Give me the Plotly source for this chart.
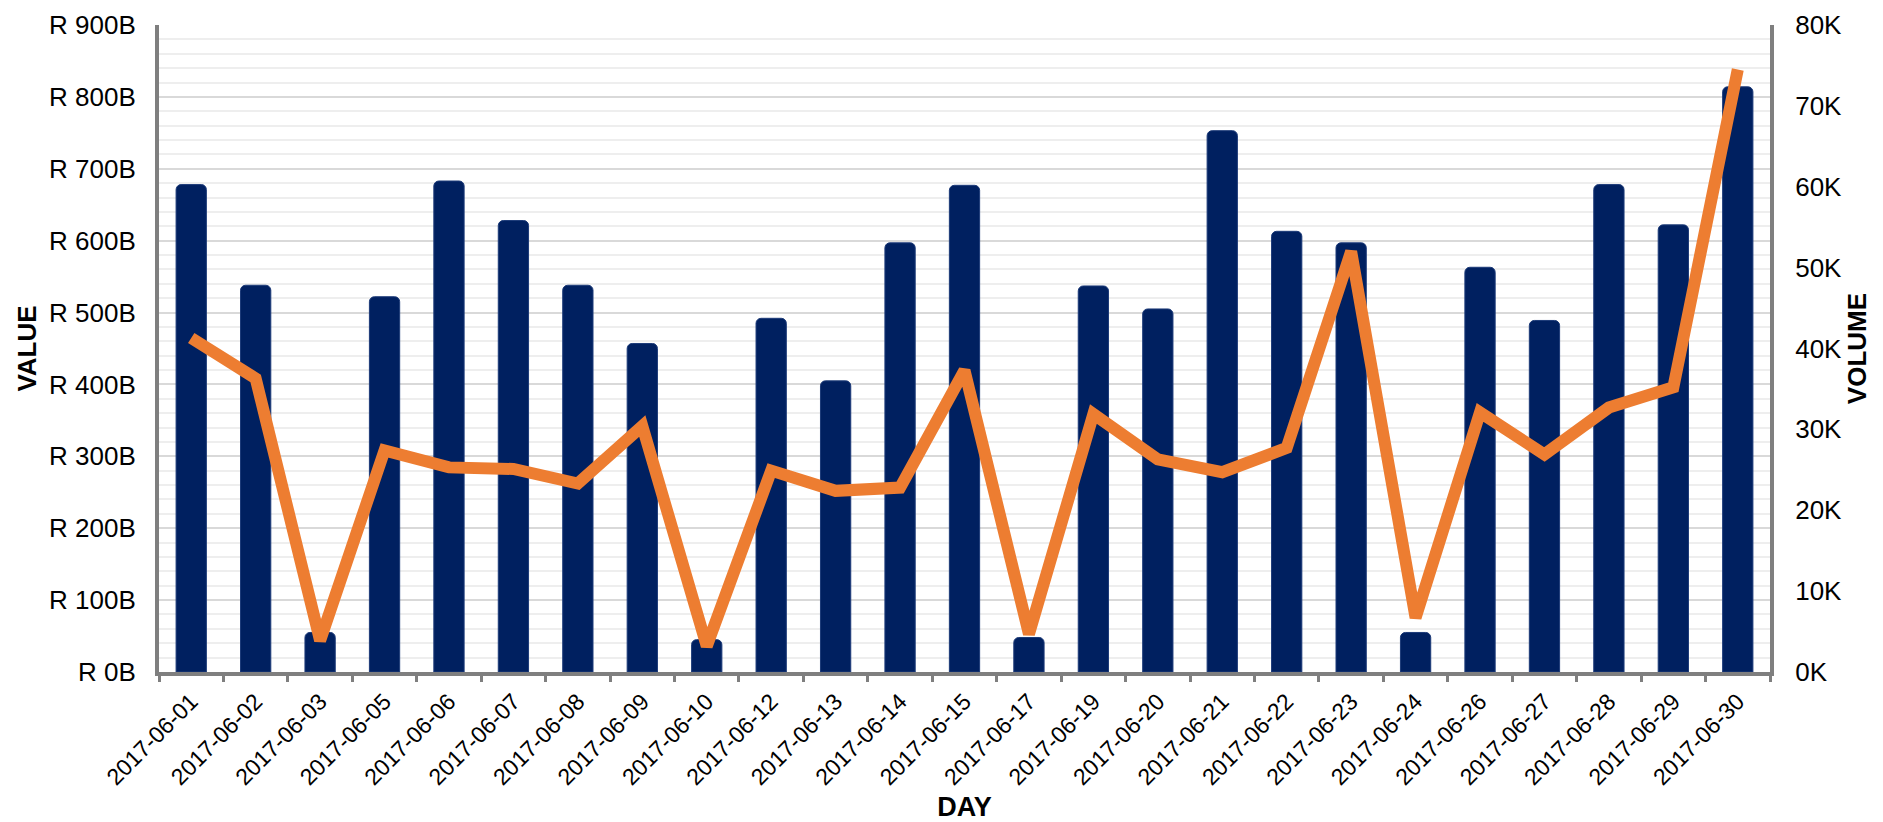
import plotly.graph_objects as go

days = ["2017-06-01", "2017-06-02", "2017-06-03", "2017-06-05", "2017-06-06",
        "2017-06-07", "2017-06-08", "2017-06-09", "2017-06-10", "2017-06-12",
        "2017-06-13", "2017-06-14", "2017-06-15", "2017-06-17", "2017-06-19",
        "2017-06-20", "2017-06-21", "2017-06-22", "2017-06-23", "2017-06-24",
        "2017-06-26", "2017-06-27", "2017-06-28", "2017-06-29", "2017-06-30"]

# Value in billions of rand
value_bn = [678, 538, 55, 522, 683, 628, 538, 457, 45, 492,
            405, 597, 677, 48, 537, 505, 753, 613, 597, 55,
            563, 489, 678, 622, 814]

# Volume (count)
volume = [41300, 36300, 3900, 27400, 25300, 25100, 23300, 30400, 3200, 24900,
          22400, 22800, 37300, 4700, 31900, 26300, 24700, 27700, 52000, 6700,
          32100, 26900, 32700, 35200, 74500]

value_tickvals = [0, 100, 200, 300, 400, 500, 600, 700, 800, 900]
value_ticktext = ["R 0B", "R 100B", "R 200B", "R 300B", "R 400B",
                  "R 500B", "R 600B", "R 700B", "R 800B", "R 900B"]
volume_tickvals = [0, 10000, 20000, 30000, 40000, 50000, 60000, 70000, 80000]
volume_ticktext = ["0K", "10K", "20K", "30K", "40K", "50K", "60K", "70K", "80K"]

FONT = "Liberation Sans, Arial, sans-serif"
AXIS_GRAY = "#7f7f7f"

fig = go.Figure()
fig.add_trace(go.Bar(
    x=days, y=value_bn, name="Value",
    marker=dict(color="#002060", line=dict(color="#1c3a78", width=1)),
    yaxis="y",
))
fig.add_trace(go.Scatter(
    x=days, y=volume, name="Volume", mode="lines",
    line=dict(color="#ed7d31", width=12),
    yaxis="y2",
))

fig.update_layout(
    width=1875, height=814,
    margin=dict(l=151, r=113, t=17, b=150, autoexpand=False),
    paper_bgcolor="white", plot_bgcolor="white",
    showlegend=False,
    bargap=0.53,
    barcornerradius=5,
    font=dict(family=FONT, color="black"),
    xaxis=dict(
        type="category",
        title=dict(text="<b>DAY</b>", font=dict(size=27, family=FONT), standoff=16),
        tickangle=-45,
        tickfont=dict(size=23, family=FONT),
        showline=True, linecolor=AXIS_GRAY, linewidth=4,
        ticks="outside", tickson="boundaries", ticklen=6, tickwidth=3, tickcolor=AXIS_GRAY,
        ticklabelstandoff=3,
        showgrid=False, automargin=False,
    ),
    yaxis=dict(
        range=[0, 900],
        tickmode="array", tickvals=value_tickvals, ticktext=value_ticktext,
        tickfont=dict(size=26, family=FONT),
        ticklabeloverflow="allow",
        title=dict(text="<b>VALUE</b>", font=dict(size=26, family=FONT), standoff=6),
        showline=True, linecolor=AXIS_GRAY, linewidth=4,
        ticks="", ticklabelstandoff=14,
        showgrid=True, gridcolor="#d9d9d9", gridwidth=1.5,
        minor=dict(tickmode="linear", tick0=0, dtick=20, showgrid=True,
                   gridcolor="#eeeeee", gridwidth=1.5),
        zeroline=False, automargin=False,
    ),
    yaxis2=dict(
        range=[0, 80000], overlaying="y", side="right",
        tickmode="array", tickvals=volume_tickvals, ticktext=volume_ticktext,
        tickfont=dict(size=26, family=FONT),
        ticklabeloverflow="allow",
        title=dict(text="<b>VOLUME</b>", font=dict(size=26, family=FONT), standoff=6),
        showline=True, linecolor=AXIS_GRAY, linewidth=4,
        ticks="", ticklabelstandoff=16,
        showgrid=False, zeroline=False, automargin=False,
    ),
)

fig.write_html("out.html")
